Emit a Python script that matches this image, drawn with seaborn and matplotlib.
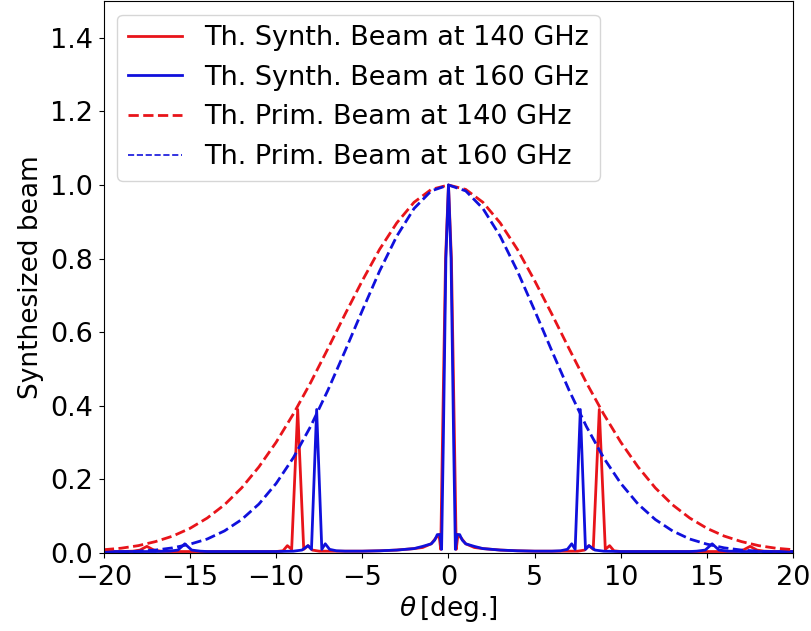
import matplotlib
matplotlib.use("Agg")
import matplotlib.pyplot as plt
import seaborn as sns
import pandas as pd

# ---------------- data ----------------
# Primary beams (read every 1 degree)
prim_theta = [-20, -19, -18, -17, -16, -15, -14, -13, -12, -11, -10, -9, -8, -7, -6, -5, -4, -3, -2, -1,
              0, 1, 2, 3, 4, 5, 6, 7, 8, 9, 10, 11, 12, 13, 14, 15, 16, 17, 18, 19, 20]
prim_140 = [0.009, 0.013, 0.020, 0.031, 0.046, 0.067, 0.095, 0.131, 0.177, 0.234, 0.301, 0.378, 0.463,
            0.555, 0.649, 0.740, 0.825, 0.897, 0.953, 0.988, 1.000, 0.988, 0.953, 0.897, 0.825, 0.740,
            0.649, 0.555, 0.463, 0.378, 0.301, 0.234, 0.177, 0.131, 0.095, 0.067, 0.046, 0.031, 0.020,
            0.013, 0.009]
prim_160 = [0.001, 0.002, 0.005, 0.008, 0.014, 0.024, 0.038, 0.060, 0.091, 0.133, 0.189, 0.259, 0.344,
            0.442, 0.549, 0.659, 0.766, 0.861, 0.936, 0.984, 1.000, 0.984, 0.936, 0.861, 0.766, 0.659,
            0.549, 0.442, 0.344, 0.259, 0.189, 0.133, 0.091, 0.060, 0.038, 0.024, 0.014, 0.008, 0.005,
            0.002, 0.001]

# Synthesized beam at 140 GHz
syn140_theta = [-20, -19, -18.3, -17.9, -17.5, -17.1, -16.7, -16, -15, -14, -13, -12, -11, -10,
                -9.6, -9.35, -9.1, -8.75, -8.4, -8.15, -7.9, -7.5, -7, -6, -5, -4, -3, -2, -1.5,
                -1.0, -0.75, -0.55, -0.45, -0.35, -0.17, 0,
                0.17, 0.35, 0.45, 0.55, 0.75, 1.0, 1.5, 2, 3, 4, 5, 6, 7, 7.5, 7.9, 8.15, 8.4,
                8.75, 9.1, 9.35, 9.6, 10, 11, 12, 13, 14, 15, 16, 16.7, 17.1, 17.5, 17.9, 18.3, 19, 20]
syn140 = [0.004, 0.004, 0.005, 0.008, 0.018, 0.008, 0.005, 0.004, 0.004, 0.004, 0.004, 0.004, 0.004,
          0.004, 0.006, 0.020, 0.010, 0.390, 0.010, 0.020, 0.008, 0.005, 0.005, 0.005, 0.005, 0.006,
          0.008, 0.012, 0.015, 0.025, 0.040, 0.050, 0.010, 0.300, 0.800, 1.000,
          0.800, 0.300, 0.010, 0.050, 0.040, 0.025, 0.015, 0.012, 0.008, 0.006, 0.005, 0.005, 0.005,
          0.005, 0.008, 0.020, 0.010, 0.390, 0.010, 0.020, 0.006, 0.004, 0.004, 0.004, 0.004, 0.004,
          0.004, 0.004, 0.005, 0.008, 0.018, 0.008, 0.005, 0.004, 0.004]

# Synthesized beam at 160 GHz
syn160_theta = [-20, -19, -18, -17, -16.2, -15.7, -15.3, -14.9, -14.4, -14, -13, -12, -11, -10, -9,
                -8.5, -8.15, -7.95, -7.65, -7.35, -7.15, -6.9, -6.5, -6, -5, -4, -3, -2, -1.5, -1.0,
                -0.8, -0.65, -0.5, -0.4, -0.3, -0.15, 0,
                0.15, 0.3, 0.4, 0.5, 0.65, 0.8, 1.0, 1.5, 2, 3, 4, 5, 6, 6.5, 6.9, 7.15, 7.35, 7.65,
                7.95, 8.15, 8.5, 9, 10, 11, 12, 13, 14, 14.4, 14.9, 15.3, 15.7, 16.2, 17, 18, 19, 20]
syn160 = [0.004, 0.004, 0.004, 0.004, 0.005, 0.008, 0.025, 0.008, 0.005, 0.004, 0.004, 0.004, 0.004,
          0.004, 0.005, 0.008, 0.020, 0.010, 0.390, 0.010, 0.025, 0.010, 0.006, 0.005, 0.005, 0.006,
          0.008, 0.012, 0.018, 0.025, 0.035, 0.050, 0.050, 0.010, 0.300, 0.800, 1.000,
          0.800, 0.300, 0.010, 0.050, 0.050, 0.035, 0.025, 0.018, 0.012, 0.008, 0.006, 0.005, 0.005,
          0.006, 0.010, 0.025, 0.010, 0.390, 0.010, 0.020, 0.008, 0.005, 0.004, 0.004, 0.004, 0.004,
          0.004, 0.005, 0.008, 0.025, 0.008, 0.005, 0.004, 0.004, 0.004, 0.004]

labels = ["Th. Synth. Beam at 140 GHz", "Th. Synth. Beam at 160 GHz",
          "Th. Prim. Beam at 140 GHz", "Th. Prim. Beam at 160 GHz"]
x_ticks = [-20, -15, -10, -5, 0, 5, 10, 15, 20]
y_ticks = [0.0, 0.2, 0.4, 0.6, 0.8, 1.0, 1.2, 1.4]

RED = "#e8141a"
BLUE = "#1010dc"
FS = 19.5

plt.rcParams['font.family'] = ['DejaVu Sans']

fig = plt.figure(figsize=(8.11, 6.31), dpi=100)
ax = fig.add_axes([0.128, 0.1236, 0.850, 0.8748])

df140 = pd.DataFrame({"theta": syn140_theta, "beam": syn140})
df160 = pd.DataFrame({"theta": syn160_theta, "beam": syn160})
dfp = pd.DataFrame({"theta": prim_theta, "p140": prim_140, "p160": prim_160})

sns.lineplot(data=df140, x="theta", y="beam", ax=ax, color=RED, lw=2, sort=False,
             label=labels[0], estimator=None)
sns.lineplot(data=df160, x="theta", y="beam", ax=ax, color=BLUE, lw=2, sort=False,
             label=labels[1], estimator=None)
sns.lineplot(data=dfp, x="theta", y="p140", ax=ax, color=RED, lw=2, linestyle="--",
             label=labels[2], estimator=None)
sns.lineplot(data=dfp, x="theta", y="p160", ax=ax, color=BLUE, lw=2, linestyle="--",
             label=labels[3], estimator=None)

ax.set_xlim(-20, 20)
ax.set_ylim(0, 1.5)
ax.set_xticks(x_ticks)
ax.set_yticks(y_ticks)
ax.set_yticklabels([f"{v:.1f}" for v in y_ticks])
ax.tick_params(labelsize=FS)
ax.tick_params(axis="x", pad=5)
ax.tick_params(axis="y", pad=4.5)
ax.set_xlabel(r"$\theta\,$[deg.]", fontsize=19, labelpad=2)
ax.set_ylabel("Synthesized beam", fontsize=19)

leg = ax.legend(loc="upper left", fontsize=FS)
leg.get_lines()[3].set_linewidth(1.2)

fig.savefig("out.png", dpi=100)
